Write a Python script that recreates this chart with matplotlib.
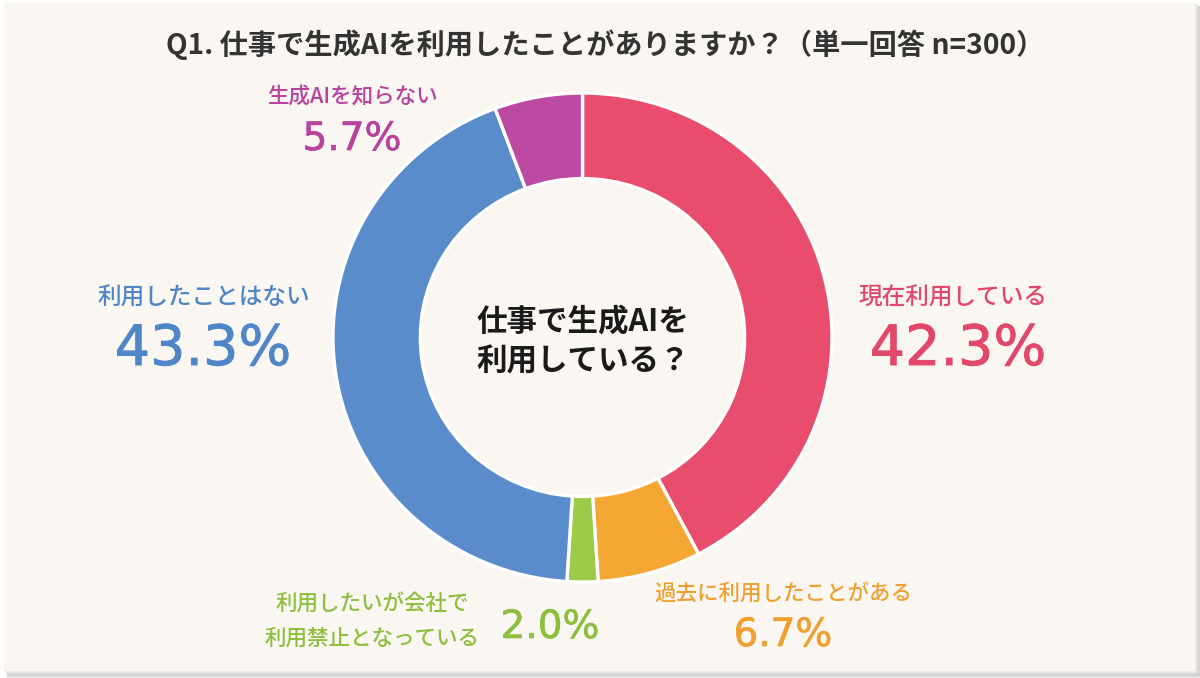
import matplotlib
matplotlib.use("Agg")
import matplotlib.pyplot as plt
import matplotlib.patheffects as pe
from matplotlib.patches import Rectangle

plt.rcParams['font.family'] = ['Noto Sans CJK JP', 'DejaVu Sans']

# data, clockwise from 12 o'clock
labels = ['現在利用している', '過去に利用したことがある', '利用したいが会社で\n利用禁止となっている',
          '利用したことはない', '生成AIを知らない']
values = [42.3, 6.7, 2.0, 43.3, 5.7]
colors = ['#E84D6E', '#F5A733', '#9CCB48', '#5A8BCB', '#BC4AA3']
text_colors = ['#E2486A', '#F0A030', '#8DBE3C', '#4F86C8', '#B8429E']

title = 'Q1. 仕事で生成AIを利用したことがありますか？（単一回答 n=300）'
center_text = '仕事で生成AIを\n利用している？'

W, H = 1200, 678
fig = plt.figure(figsize=(W / 100, H / 100), dpi=100)
fig.patch.set_facecolor('white')

bg = fig.add_axes([0, 0, 1, 1])
bg.set_xlim(0, W)
bg.set_ylim(H, 0)
bg.axis('off')

# card with a soft shadow
bg.add_patch(Rectangle((7, 6), 1192, 670, color='#D8D6D4', zorder=0))
bg.add_patch(Rectangle((5, 4), 1191, 668, color='#E9E7E5', zorder=0))
bg.add_patch(Rectangle((4, 3), 1190, 667, color='#FAF6F2', zorder=1))

# donut
cx, cy, rx, ry = 582.5, 337.5, 249.5, 244.5
ax = fig.add_axes([(cx - rx) / W, (H - cy - ry) / H, 2 * rx / W, 2 * ry / H])
ax.pie(values, colors=colors, startangle=90, counterclock=False, radius=1,
       wedgeprops=dict(width=0.35, edgecolor='white', linewidth=2.4))
ax.set_aspect('auto')
ax.set_xlim(-1, 1)
ax.set_ylim(-1, 1)
ax.axis('off')

bg.text(605, 45, title, ha='center', va='center', fontsize=20.3, fontweight='bold',
        color='#333333', zorder=3)
bg.text(583, 342, center_text, ha='center', va='center', fontsize=22, fontweight='bold',
        color='#1A1A1A', linespacing=1.3, zorder=3)

# outside labels: (label x, label y, pct x, pct y, label size, pct size)
label_pos = [
    (953, 298, 958, 350, 17, 40),
    (783, 594, 783, 635, 15.5, 28),
    (372, 621, 550, 627, 15.5, 28),
    (204, 298, 203, 350, 17, 40),
    (352, 97, 352, 139, 15.5, 28),
]
for lab, v, tc, (lx, ly, px, py, ls, ps) in zip(labels, values, text_colors, label_pos):
    bg.text(lx, ly, lab, ha='center', va='center', fontsize=ls, color=tc,
            fontweight='medium', linespacing=1.75, zorder=3)
    bg.text(px, py, f'{v:.1f}%', ha='center', va='center', fontsize=ps, color=tc,
            family='DejaVu Sans', zorder=3,
            path_effects=[pe.withStroke(linewidth=ps / 60, foreground=tc)])

fig.savefig('out.png', dpi=100, facecolor=fig.get_facecolor())
